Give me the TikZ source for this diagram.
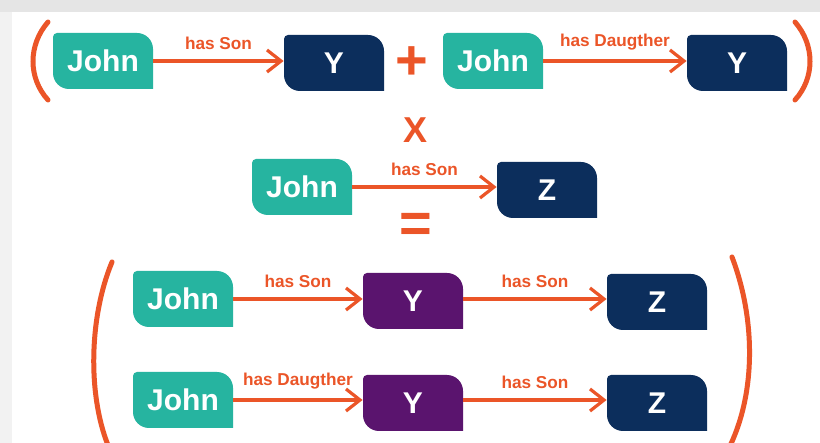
\documentclass[tikz,border=0pt]{standalone}
\usepackage{fontspec}
\setsansfont{Liberation Sans}
\usetikzlibrary{positioning,arrows.meta}
\definecolor{johncol}{HTML}{26B4A0}
\definecolor{navycol}{HTML}{0C2E5C}
\definecolor{purpcol}{HTML}{5A146E}
\definecolor{orgcol}{HTML}{EB5528}

\begin{document}
\begin{tikzpicture}[x=0.5pt, y=-0.5pt,
  blob/.style={minimum width=50pt, minimum height=28pt, inner sep=0pt, text=white,
               font=\sffamily\bfseries\fontsize{15}{15}\selectfont,
               path picture={\fill[#1] (path picture bounding box.south east)
                 -- ([yshift=-8pt]path picture bounding box.north east)
                 arc[start angle=0, end angle=90, radius=8pt]
                 -- ([xshift=2pt]path picture bounding box.north west)
                 arc[start angle=90, end angle=180, radius=2pt]
                 -- ([yshift=8pt]path picture bounding box.south west)
                 arc[start angle=180, end angle=270, radius=8pt] -- cycle;}},
  ar/.style={-{Straight Barb[length=7pt, width=11pt, line width=1.6pt]}, line width=1.6pt, orgcol},
  lbl/.style={font=\sffamily\bfseries\fontsize{8.6}{9}\selectfont, text=orgcol, above=1.5pt},
  sym/.style={font=\sffamily\bfseries\fontsize{#1}{#1}\selectfont, text=orgcol, inner sep=0pt},
  paren/.style={line width=2.5pt, orgcol, line cap=round}
]
\useasboundingbox (0,0) rectangle (820,443);
\fill[gray!10] (0,0) rectangle (820,443);
\fill[gray!20] (0,0) rectangle (820,12);
\fill[white] (12,12) rectangle (820,443);

% first factor
\node[blob=johncol] (j1) at (103,61)  {John};
\node[blob=navycol] (y1) at (334,63)  {Y};
\node[sym=28]       (plus) at (412,63) {+};
\node[blob=johncol] (j2) at (493,61)  {John};
\node[blob=navycol] (y2) at (737,63)  {Y};
\draw[ar] (j1.east) -- (j1.east -| y1.west) node[lbl, midway] {has Son};
\draw[ar] (j2.east) -- (j2.east -| y2.west) node[lbl, midway] {has Daugther};
\draw[paren] (48,22) .. controls (28,45) and (28,78) .. (48,100);
\draw[paren] (795,22) .. controls (815,45) and (815,78) .. (795,100);

\node[sym=18] (times) at (416,130) {X};

% second factor
\node[blob=johncol] (j3) at (302,187) {John};
\node[blob=navycol] (z3) at (547,190) {Z};
\draw[ar] (j3.east) -- (j3.east -| z3.west) node[lbl, midway] {has Son};

\node[sym=28] (eq) at (416,228) {=};

% result
\node[blob=johncol] (j4) at (183,299) {John};
\node[blob=purpcol] (y4) at (413,301) {Y};
\node[blob=navycol] (z4) at (657,302) {Z};
\draw[ar] (j4.east) -- (j4.east -| y4.west) node[lbl, midway] {has Son};
\draw[ar] (y4.east |- j4.east) -- (j4.east -| z4.west) node[lbl, midway] {has Son};

\node[blob=johncol] (j5) at (183,400) {John};
\node[blob=purpcol] (y5) at (413,403) {Y};
\node[blob=navycol] (z5) at (657,403) {Z};
\draw[ar] (j5.east) -- (j5.east -| y5.west) node[lbl, midway] {has Daugther};
\draw[ar] (y5.east |- j5.east) -- (j5.east -| z5.west) node[lbl, midway] {has Son};

\draw[paren] (112,262) .. controls (88,320) and (88,400) .. (110,450);
\draw[paren] (732,257) .. controls (756,320) and (756,395) .. (728,450);
\end{tikzpicture}
\end{document}
